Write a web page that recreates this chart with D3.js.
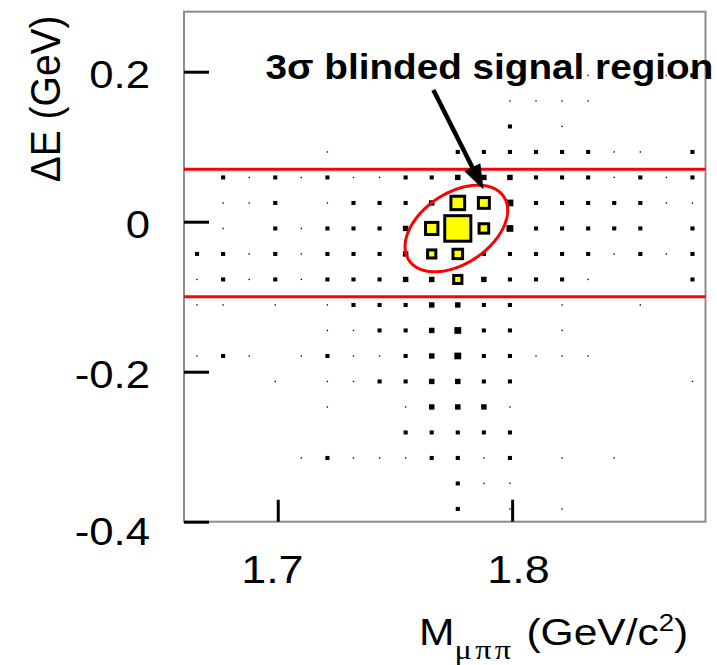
<!DOCTYPE html>
<html>
<head>
<meta charset="utf-8">
<script src="https://cdn.jsdelivr.net/npm/d3@7"></script>
<style>
  body { margin: 0; background: #fff; }
  svg { display: block; }
</style>
</head>
<body>
<svg id="chart" width="717" height="665"></svg>
<script>
// ---- axis ranges and ticks ----
const massRange = [1.66, 1.8825];      // M_mu-pi-pi (GeV/c^2)
const deltaERange = [-0.40, 0.28];     // Delta E (GeV)
const nMassBins = 20;
const nDeltaEBins = 20;
const massTicks = [1.7, 1.8];
const deltaETicks = [-0.4, -0.2, 0, 0.2];

// ---- sideband data: event counts per cell, rows from highest Delta E down ----
const sidebandCounts = [
  [0,0,0,0,0,0,0,0,0,0,0,0,0,0,0,0,0,0,0,0],
  [0,0,0,0,0,0,0,0,0,0,0,0,0,0,0,0,0,0,0,0],
  [0,0,0,0,0,0,0,0,0,0,0,0,0,1,0,1,0,0,1,3],
  [0,0,0,0,0,0,0,0,0,0,0,0,1,1,1,1,0,0,0,0],
  [0,0,0,0,0,0,0,0,0,0,0,0,3,0,1,0,0,0,0,0],
  [0,0,0,0,0,1,0,0,0,0,3,3,3,3,3,3,1,1,0,3],
  [0,3,1,3,1,3,1,1,3,3,4,4,4,3,3,3,1,3,1,3],
  [0,1,1,3,0,1,3,3,3,4,0,0,5,3,3,3,3,3,1,1],
  [0,1,0,3,1,3,3,3,4,0,0,0,5,3,3,3,3,3,0,3],
  [3,3,1,3,1,3,3,3,4,0,0,3,3,3,3,3,1,3,1,3],
  [1,3,1,3,1,3,3,3,4,4,0,4,3,3,3,1,0,0,0,3],
  [1,1,0,1,0,1,3,3,3,4,4,3,3,0,1,0,0,1,0,0],
  [0,0,0,0,0,1,1,3,3,4,5,3,3,0,1,0,0,0,0,0],
  [1,3,1,0,1,3,1,1,3,4,5,3,3,1,1,1,0,0,0,0],
  [0,0,0,1,0,1,1,3,3,4,4,3,3,0,0,0,0,0,0,1],
  [0,0,0,0,0,1,0,0,1,4,4,4,1,0,0,0,0,0,0,0],
  [0,0,0,0,0,0,0,0,3,3,3,3,3,0,0,0,0,0,0,0],
  [0,0,0,0,1,3,1,1,1,3,3,1,3,0,1,0,1,0,0,0],
  [0,0,0,0,0,0,0,0,0,0,3,1,1,0,0,0,0,0,0,0],
  [0,0,0,0,0,0,0,0,0,0,3,0,1,0,1,0,0,0,0,0]
];

// ---- signal MC inside the blinded region (row / column index, count) ----
const signalRow   = [7, 7, 8, 8, 8, 9, 9, 10];
const signalCol   = [10, 11, 9, 10, 11, 9, 10, 10];
const signalCount = [10, 8, 9, 19, 7, 6, 7, 6];

// full-cell box corresponds to this count
const countMax = 19;

// Delta E band and 3-sigma signal ellipse
const bandEdges = [0.07, -0.10];
const ellipseCentre = { m: 1.7762, dE: -0.009 };
const ellipseHalfWidth = { m: 0.0219, dE: 0.0577 };
const ellipseRho = 0.42;

// annotation
const annotationText = "3σ blinded signal region";
const annotationAnchor = { m: 1.6948, dE: 0.190 };
const arrowTail = { m: 1.7664, dE: 0.1756 };
const arrowTip  = { m: 1.7878, dE: 0.0429 };

// ---- layout ----
const svg = d3.select("#chart");
const frame = { left: 184, right: 705.5, top: 11.7, bottom: 521.7 };

const x = d3.scaleLinear().domain(massRange).range([frame.left, frame.right]);
const y = d3.scaleLinear().domain(deltaERange).range([frame.bottom, frame.top]);

const massEdges = d3.range(nMassBins + 1).map(i => massRange[0] + i * (massRange[1] - massRange[0]) / nMassBins);
const dEEdges = d3.range(nDeltaEBins + 1).map(i => deltaERange[1] - i * (deltaERange[1] - deltaERange[0]) / nDeltaEBins);

function cellBox(row, col, n) {
  const x0 = x(massEdges[col]), x1 = x(massEdges[col + 1]);
  const y0 = y(dEEdges[row]), y1 = y(dEEdges[row + 1]);
  const w = (x1 - x0) * n / countMax, h = (y1 - y0) * n / countMax;
  const cx = (x0 + x1) / 2, cy = (y0 + y1) / 2;
  return { x: cx - w / 2, y: cy - h / 2, w, h };
}

// frame
svg.append("rect")
  .attr("x", frame.left).attr("y", frame.top)
  .attr("width", frame.right - frame.left).attr("height", frame.bottom - frame.top)
  .attr("fill", "#fff").attr("stroke", "#8c8c8c").attr("stroke-width", 2);

// Delta E band limits
svg.append("g").selectAll("line").data(bandEdges).join("line")
  .attr("x1", x(massRange[0])).attr("x2", x(massRange[1]))
  .attr("y1", d => y(d)).attr("y2", d => y(d))
  .attr("stroke", "#ff0000").attr("stroke-width", 3);

// sideband boxes
const sidebandCells = [];
sidebandCounts.forEach((rowVals, r) => rowVals.forEach((n, c) => { if (n > 0) sidebandCells.push({ r, c, n }); }));
svg.append("g").selectAll("rect").data(sidebandCells).join("rect")
  .each(function(d) {
    const b = cellBox(d.r, d.c, d.n);
    d3.select(this).attr("x", b.x).attr("y", b.y).attr("width", b.w).attr("height", b.h);
  })
  .attr("fill", "#000");

// signal MC boxes
const signalCells = signalCount.map((n, i) => ({ r: signalRow[i], c: signalCol[i], n }));
svg.append("g").selectAll("rect").data(signalCells).join("rect")
  .each(function(d) {
    const b = cellBox(d.r, d.c, d.n);
    d3.select(this).attr("x", b.x).attr("y", b.y).attr("width", b.w).attr("height", b.h);
  })
  .attr("fill", "#ffff00").attr("stroke", "#000").attr("stroke-width", 3);

// 3-sigma ellipse
const ts = d3.range(0, 2 * Math.PI, Math.PI / 90);
const ellipsePts = ts.map(t => [
  x(ellipseCentre.m + ellipseHalfWidth.m * Math.cos(t)),
  y(ellipseCentre.dE + ellipseHalfWidth.dE * (ellipseRho * Math.cos(t) + Math.sqrt(1 - ellipseRho * ellipseRho) * Math.sin(t)))
]);
svg.append("path")
  .attr("d", d3.line().curve(d3.curveLinearClosed)(ellipsePts))
  .attr("fill", "none").attr("stroke", "#ff0000").attr("stroke-width", 3);

// arrow
{
  const x0 = x(arrowTail.m), y0 = y(arrowTail.dE);
  const x1 = x(arrowTip.m), y1 = y(arrowTip.dE);
  const len = Math.hypot(x1 - x0, y1 - y0);
  const ux = (x1 - x0) / len, uy = (y1 - y0) / len;
  const headLen = 25, headHalf = 9;
  const bx = x1 - ux * headLen, by = y1 - uy * headLen;
  svg.append("line")
    .attr("x1", x0).attr("y1", y0).attr("x2", bx + ux * 2).attr("y2", by + uy * 2)
    .attr("stroke", "#000").attr("stroke-width", 4.5);
  svg.append("path")
    .attr("d", d3.line()([[x1, y1], [bx - uy * headHalf, by + ux * headHalf], [bx + uy * headHalf, by - ux * headHalf]]) + "Z")
    .attr("fill", "#000");
}

// annotation text
svg.append("text")
  .attr("transform", `translate(${x(annotationAnchor.m)},${y(annotationAnchor.dE)}) scale(1.075,1)`)
  .attr("font-family", "Liberation Sans, Arial, sans-serif")
  .attr("font-weight", "bold").attr("font-size", 36)
  .attr("fill", "#000")
  .text(annotationText);

// ---- axes ----
const fontFamily = "Liberation Sans, Arial, sans-serif";

const yAxis = d3.axisLeft(y).tickValues(deltaETicks)
  .tickSizeInner(-25).tickSizeOuter(0).tickPadding(34)
  .tickFormat(d => String(d));
const gy = svg.append("g").attr("transform", `translate(${frame.left},0)`).call(yAxis);
gy.select(".domain").remove();
gy.selectAll(".tick line").attr("stroke", "#000").attr("stroke-width", 3);
gy.selectAll(".tick text")
  .attr("x", null).attr("dy", null)
  .attr("font-family", fontFamily).attr("font-size", 38).attr("fill", "#000")
  .attr("transform", d => `translate(-34,${d === deltaERange[0] ? 23 : 15.5}) scale(1.15,1)`);

const midMass = (massTicks[0] + massTicks[massTicks.length - 1]) / 2;
const xAxis = d3.axisBottom(x).tickValues(massTicks)
  .tickSizeInner(-22).tickSizeOuter(0)
  .tickFormat(d => String(d));
const gx = svg.append("g").attr("transform", `translate(0,${frame.bottom})`).call(xAxis);
gx.select(".domain").remove();
gx.selectAll(".tick line").attr("stroke", "#000").attr("stroke-width", 3);
gx.selectAll(".tick text")
  .attr("y", null).attr("dy", null)
  .attr("font-family", fontFamily).attr("font-size", 39).attr("fill", "#000")
  .attr("transform", d => `translate(${(x(d) - x(midMass)) * 0.05},61.3) scale(1.15,1)`);

// y title
svg.append("text")
  .attr("transform", `translate(59.5,${(frame.top + 170) / 2 + 8}) scale(1.1,1) rotate(-90)`)
  .attr("text-anchor", "middle")
  .attr("font-family", fontFamily).attr("font-size", 39).attr("fill", "#000")
  .text("ΔE (GeV)");

// x title with subscript and superscript
const xt = svg.append("text")
  .attr("transform", `translate(419,645) scale(1.15,1)`)
  .attr("font-family", fontFamily).attr("font-size", 37).attr("fill", "#000");
xt.append("tspan").text("M");
xt.append("tspan").attr("font-family", "Liberation Serif, Times New Roman, serif")
  .attr("font-size", 28).attr("dy", 14).attr("letter-spacing", 3).text("μππ");
xt.append("tspan").attr("dy", -14).text(" (GeV/c");
xt.append("tspan").attr("font-size", 24).attr("dy", -14).text("2");
xt.append("tspan").attr("dy", 14).text(")");
</script>
</body>
</html>
